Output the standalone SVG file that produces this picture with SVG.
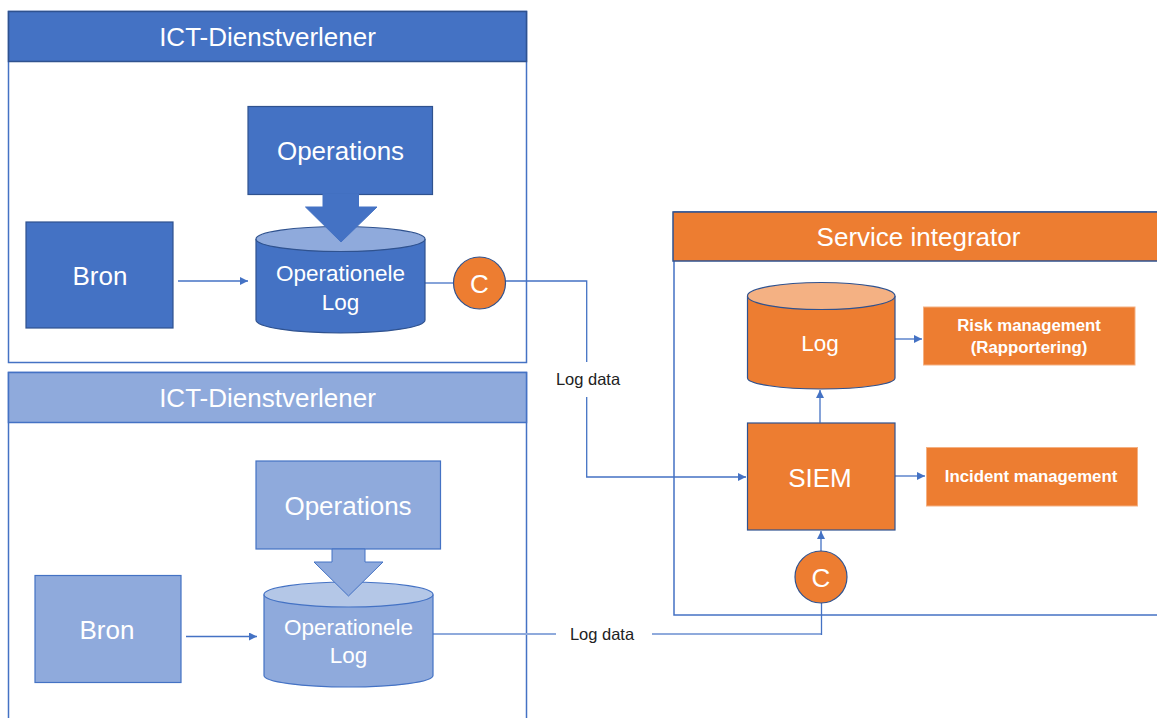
<svg xmlns="http://www.w3.org/2000/svg" width="1157" height="718" viewBox="0 0 1157 718">
<style>
text{font-family:"Liberation Sans",Arial,sans-serif;fill:#fff;text-anchor:middle;dominant-baseline:central}
.frame{fill:none;stroke:#4472C4;stroke-width:1.5}
.hd{fill:#4472C4;stroke:#2F528F;stroke-width:1.5}
.hdl{fill:#8FAADC;stroke:#4472C4;stroke-width:1.5}
.hdo{fill:#ED7D31;stroke:#2F528F;stroke-width:1.5}
.dk{fill:#4472C4;stroke:#2F528F;stroke-width:1.2}
.lt{fill:#8FAADC;stroke:#4472C4;stroke-width:1.2}
.or{fill:#ED7D31;stroke:#2F528F;stroke-width:1.2}
.orn{fill:#ED7D31;stroke:#F4B183;stroke-width:1}
.big{font-size:26px}
.mid{font-size:22.5px}
.sm{font-size:16.8px;font-weight:bold}
.lbl{font-size:16.5px;fill:#222}
.con{fill:none;stroke:#4472C4;stroke-width:1.3}
.conl{fill:none;stroke:#8FAADC;stroke-width:2.2}
</style>
<defs>
<marker id="ah" viewBox="0 0 10 10" refX="10" refY="5" markerWidth="8" markerHeight="8" markerUnits="userSpaceOnUse" orient="auto">
<path d="M0,0 L10,5 L0,10 z" fill="#4472C4"/>
</marker>
</defs>

<g id="ict1">
<rect class="frame" x="8.5" y="11.5" width="518" height="351"/>
<rect class="hd" x="8.5" y="11.5" width="518" height="50"/>
<text class="big" x="267.5" y="37">ICT-Dienstverlener</text>
</g>
<g id="ict2">
<rect class="frame" x="8.5" y="372.5" width="518" height="400"/>
<rect class="hdl" x="8.5" y="372.5" width="518" height="50"/>
<text class="big" x="267.5" y="397.5">ICT-Dienstverlener</text>
</g>
<g id="si">
<rect class="frame" x="674" y="212" width="520" height="403"/>
<rect class="hdo" x="673" y="212" width="520" height="49"/>
<text class="big" x="918.5" y="237">Service integrator</text>
</g>

<g id="connectors">
<path class="con" d="M178 281 H248" marker-end="url(#ah)"/>
<path class="con" d="M425 283 H453"/>
<path class="con" d="M505 281 H586.7 V362"/>
<path class="con" d="M586.7 397 V477 H746" marker-end="url(#ah)"/>
<path class="con" d="M186 636.5 H257" marker-end="url(#ah)"/>
<path class="conl" d="M433 634 H556"/>
<path class="conl" d="M652 634 H821.5"/>
<path class="con" d="M821.5 635 V603"/>
<path class="con" d="M821 551 V531" marker-end="url(#ah)"/>
<path class="con" d="M820 422.7 V390" marker-end="url(#ah)"/>
<path class="con" d="M895 339 H922" marker-end="url(#ah)"/>
<path class="con" d="M895 476 H925" marker-end="url(#ah)"/>
<text class="lbl" x="588" y="379">Log data</text>
<text class="lbl" x="602" y="633.5">Log data</text>
</g>

<g id="bron1">
<rect class="dk" x="26" y="222" width="147" height="106"/>
<text class="big" x="100" y="275.5">Bron</text>
</g>
<g id="ops1">
<rect class="dk" x="248" y="106.5" width="184.5" height="88"/>
<text class="big" x="340.5" y="151">Operations</text>
</g>
<g id="cyl1">
<path class="dk" d="M256 239 V320 A84.5 13 0 0 0 425 320 V239"/>
<ellipse cx="340.5" cy="239" rx="84.5" ry="12.5" fill="#8FAADC" stroke="#2F528F" stroke-width="1.2"/>
<text class="mid" x="340.5" y="273">Operationele</text>
<text class="mid" x="340.5" y="302">Log</text>
</g>
<g id="arrow1">
<path d="M323 194 V207 H305.5 L341 242 L377 207 H358.5 V194 z" fill="#4472C4" stroke="#4472C4" stroke-width="1"/>
</g>
<g id="c1">
<circle class="or" cx="479.5" cy="283" r="26"/>
<text class="big" x="479.5" y="284">C</text>
</g>

<g id="bron2">
<rect class="lt" x="35" y="575.5" width="146" height="107"/>
<text class="big" x="107" y="630">Bron</text>
</g>
<g id="ops2">
<rect class="lt" x="256" y="461" width="184.5" height="88"/>
<text class="big" x="348" y="505.5">Operations</text>
</g>
<g id="cyl2">
<path class="lt" d="M264 594.5 V675.5 A84.5 11.5 0 0 0 433 675.5 V594.5"/>
<ellipse cx="348.5" cy="594.5" rx="84.5" ry="12.5" fill="#B4C7E7" stroke="#4472C4" stroke-width="1.2"/>
<text class="mid" x="348.5" y="627">Operationele</text>
<text class="mid" x="348.5" y="655.5">Log</text>
</g>
<g id="arrow2">
<path d="M332 549 V562 H314 L348.5 596 L383 562 H365 V549 z" fill="#8FAADC" stroke="#4472C4" stroke-width="1"/>
</g>

<g id="log">
<path class="or" d="M747.5 296 V378 A73.75 11 0 0 0 895 378 V296"/>
<ellipse cx="821.25" cy="296" rx="73.75" ry="13.5" fill="#F4B183" stroke="#2F528F" stroke-width="1.2"/>
<text class="mid" x="820" y="343">Log</text>
</g>
<g id="siem">
<rect class="or" x="747.5" y="423" width="147.5" height="107"/>
<text class="big" x="820" y="478">SIEM</text>
</g>
<g id="risk">
<rect class="orn" x="923.5" y="307" width="211.5" height="58"/>
<text class="sm" x="1029" y="325.5">Risk management</text>
<text class="sm" x="1029" y="347.5">(Rapportering)</text>
</g>
<g id="incident">
<rect class="orn" x="926.5" y="447.5" width="211" height="58.5"/>
<text class="sm" x="1031" y="476">Incident management</text>
</g>
<g id="c2">
<circle class="or" cx="821" cy="577" r="26"/>
<text class="big" x="821" y="578">C</text>
</g>
</svg>
